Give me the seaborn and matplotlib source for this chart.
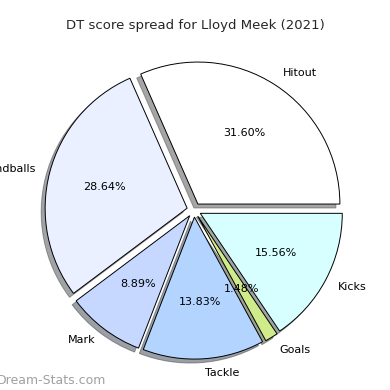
import matplotlib
matplotlib.use("Agg")
import matplotlib.pyplot as plt
import seaborn as sns

labels = ["Hitout", "Handballs", "Mark", "Tackle", "Goals", "Kicks"]
values = [31.60, 28.64, 8.89, 13.83, 1.48, 15.56]
colors = ["#ffffff", "#eaf0ff", "#c6d8ff", "#b3d4ff", "#d0eb8a", "#d8ffff"]

sns.set_theme(style="white")
plt.rcParams['font.family'] = ['DejaVu Sans']

fig = plt.figure(figsize=(3.9, 3.9), dpi=100)
ax = fig.add_axes([(194 - 177.5) / 390, (180 - 177.5) / 390, 355 / 390, 355 / 390])
ax.pie(values, labels=labels, colors=colors, autopct='%1.2f%%', startangle=0,
       explode=[0.05] * len(values), shadow=True,
       wedgeprops=dict(edgecolor='black', linewidth=0.7),
       textprops=dict(fontsize=8, color='black'))
ax.set_aspect('equal')
fig.text(195 / 390, 1 - 25 / 390, "DT score spread for Lloyd Meek (2021)", ha='center', va='center', fontsize=9.5)
fig.text(-0.008, 1 - 380 / 390, "Dream-Stats.com", ha='left', va='center', fontsize=9,
         color='#a0a0a0')
fig.savefig("out.png", dpi=100)
